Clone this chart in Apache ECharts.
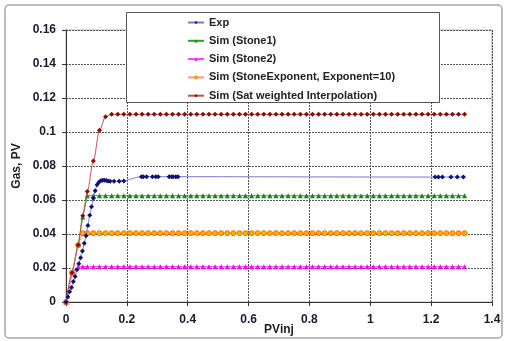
<!DOCTYPE html>
<html><head><meta charset="utf-8">
<script src="https://cdn.jsdelivr.net/npm/echarts@6/dist/echarts.min.js"></script>
<style>html,body{margin:0;padding:0;background:#fff}#c{width:505px;height:341px}</style>
</head><body><div id="c"></div>
<script>
var xTicks = [0, 0.2, 0.4, 0.6, 0.8, 1, 1.2, 1.4];
var yTicks = [0, 0.02, 0.04, 0.06, 0.08, 0.1, 0.12, 0.14, 0.16];
var seriesNames = ['Exp', 'Sim (Stone1)', 'Sim (Stone2)', 'Sim (StoneExponent, Exponent=10)', 'Sim (Sat weighted Interpolation)'];

var expX = [0, 0.006, 0.012, 0.018, 0.024, 0.03, 0.036, 0.042, 0.048, 0.054, 0.06, 0.066, 0.072, 0.078, 0.084, 0.09, 0.096, 0.102, 0.108, 0.114, 0.12, 0.126, 0.132, 0.138, 0.145, 0.158, 0.175, 0.19, 0.215, 0.232, 0.248, 0.254, 0.265, 0.284, 0.295, 0.303, 0.339, 0.347, 0.352, 0.361, 0.368, 1.213, 1.224, 1.237, 1.265, 1.286, 1.306];
var expY = [0, 0.003, 0.006, 0.0085, 0.012, 0.015, 0.019, 0.0225, 0.026, 0.030, 0.0345, 0.039, 0.045, 0.051, 0.056, 0.061, 0.0655, 0.069, 0.0705, 0.0713, 0.0716, 0.0716, 0.0714, 0.0712, 0.0711, 0.071, 0.071, 0.0712, 0.0724, 0.0733, 0.0737, 0.0737, 0.0737, 0.0737, 0.0737, 0.0737, 0.0737, 0.0737, 0.0737, 0.0737, 0.0737, 0.0735, 0.0735, 0.0735, 0.0735, 0.0735, 0.0735];
var expNoMarker = [0.215, 0.232];

var simX = [0, 0.02, 0.04, 0.055, 0.07, 0.09, 0.11, 0.13, 0.15, 0.17, 0.19, 0.21, 0.23, 0.25, 0.27, 0.29, 0.31, 0.33, 0.35, 0.37, 0.39, 0.41, 0.43, 0.45, 0.47, 0.49, 0.51, 0.53, 0.55, 0.57, 0.59, 0.61, 0.63, 0.65, 0.67, 0.69, 0.71, 0.73, 0.75, 0.77, 0.79, 0.81, 0.83, 0.85, 0.87, 0.89, 0.91, 0.93, 0.95, 0.97, 0.99, 1.01, 1.03, 1.05, 1.07, 1.09, 1.11, 1.13, 1.15, 1.17, 1.19, 1.21, 1.23, 1.25, 1.27, 1.29, 1.31];
var stone1Y = [0, 0.0172, 0.0335, 0.05, 0.0625, 0.0625, 0.0625, 0.0625, 0.0625, 0.0625, 0.0625, 0.0625, 0.0625, 0.0625, 0.0625, 0.0625, 0.0625, 0.0625, 0.0625, 0.0625, 0.0625, 0.0625, 0.0625, 0.0625, 0.0625, 0.0625, 0.0625, 0.0625, 0.0625, 0.0625, 0.0625, 0.0625, 0.0625, 0.0625, 0.0625, 0.0625, 0.0625, 0.0625, 0.0625, 0.0625, 0.0625, 0.0625, 0.0625, 0.0625, 0.0625, 0.0625, 0.0625, 0.0625, 0.0625, 0.0625, 0.0625, 0.0625, 0.0625, 0.0625, 0.0625, 0.0625, 0.0625, 0.0625, 0.0625, 0.0625, 0.0625, 0.0625, 0.0625, 0.0625, 0.0625, 0.0625, 0.0625];
var stone2Y = [0, 0.0172, 0.0208, 0.0208, 0.0208, 0.0208, 0.0208, 0.0208, 0.0208, 0.0208, 0.0208, 0.0208, 0.0208, 0.0208, 0.0208, 0.0208, 0.0208, 0.0208, 0.0208, 0.0208, 0.0208, 0.0208, 0.0208, 0.0208, 0.0208, 0.0208, 0.0208, 0.0208, 0.0208, 0.0208, 0.0208, 0.0208, 0.0208, 0.0208, 0.0208, 0.0208, 0.0208, 0.0208, 0.0208, 0.0208, 0.0208, 0.0208, 0.0208, 0.0208, 0.0208, 0.0208, 0.0208, 0.0208, 0.0208, 0.0208, 0.0208, 0.0208, 0.0208, 0.0208, 0.0208, 0.0208, 0.0208, 0.0208, 0.0208, 0.0208, 0.0208, 0.0208, 0.0208, 0.0208, 0.0208, 0.0208, 0.0208];
var stoneExpY = [0, 0.0172, 0.0335, 0.0405, 0.0405, 0.0405, 0.0405, 0.0405, 0.0405, 0.0405, 0.0405, 0.0405, 0.0405, 0.0405, 0.0405, 0.0405, 0.0405, 0.0405, 0.0405, 0.0405, 0.0405, 0.0405, 0.0405, 0.0405, 0.0405, 0.0405, 0.0405, 0.0405, 0.0405, 0.0405, 0.0405, 0.0405, 0.0405, 0.0405, 0.0405, 0.0405, 0.0405, 0.0405, 0.0405, 0.0405, 0.0405, 0.0405, 0.0405, 0.0405, 0.0405, 0.0405, 0.0405, 0.0405, 0.0405, 0.0405, 0.0405, 0.0405, 0.0405, 0.0405, 0.0405, 0.0405, 0.0405, 0.0405, 0.0405, 0.0405, 0.0405, 0.0405, 0.0405, 0.0405, 0.0405, 0.0405, 0.0405];
var satY = [0, 0.0172, 0.0335, 0.0508, 0.065, 0.083, 0.101, 0.109, 0.1104, 0.1104, 0.1104, 0.1104, 0.1104, 0.1104, 0.1104, 0.1104, 0.1104, 0.1104, 0.1104, 0.1104, 0.1104, 0.1104, 0.1104, 0.1104, 0.1104, 0.1104, 0.1104, 0.1104, 0.1104, 0.1104, 0.1104, 0.1104, 0.1104, 0.1104, 0.1104, 0.1104, 0.1104, 0.1104, 0.1104, 0.1104, 0.1104, 0.1104, 0.1104, 0.1104, 0.1104, 0.1104, 0.1104, 0.1104, 0.1104, 0.1104, 0.1104, 0.1104, 0.1104, 0.1104, 0.1104, 0.1104, 0.1104, 0.1104, 0.1104, 0.1104, 0.1104, 0.1104, 0.1104, 0.1104, 0.1104, 0.1104, 0.1104];

function pairs(xs, ys) { return xs.map(function (x, i) { return [x, ys[i]]; }); }
var expData = expX.map(function (x, i) {
  var d = { value: [x, expY[i]] };
  if (expNoMarker.indexOf(x) >= 0) d.symbol = 'none';
  return d;
});

var FONT = '"Liberation Sans", Arial, sans-serif';
var legendData = seriesNames.map(function (n, i) {
  return i === 3 ? { name: n, itemStyle: { borderWidth: 0.6 } } : { name: n };
});
var chart = echarts.init(document.getElementById('c'), null, { renderer: 'canvas' });
chart.setOption({
  animation: false,
  backgroundColor: '#fff',
  graphic: [
    { type: 'rect', z: 0, shape: { x: 5, y: 5, width: 497, height: 333, r: 4 }, style: { fill: 'none', stroke: '#a8a8a8', lineWidth: 1.5 } },
    { type: 'rect', z: 20, shape: { x: 126.5, y: 12.5, width: 313, height: 90 }, style: { fill: '#fff', stroke: '#555', lineWidth: 1 } }
  ],
  grid: { left: 66, right: 13, top: 30, bottom: 39, containLabel: false, outerBoundsMode: 'none', show: true, borderColor: '#b0b0b0', borderWidth: 1 },
  legend: {
    z: 30,
    orient: 'vertical', left: 182, top: 11,
    itemWidth: 16, itemHeight: 4, itemGap: 5.3,
    textStyle: { fontFamily: FONT, fontSize: 11, fontWeight: 'bold', color: '#222', lineHeight: 13 },
    data: legendData
  },
  xAxis: {
    type: 'value', min: xTicks[0], max: xTicks[xTicks.length - 1], interval: 0.2,
    name: 'PVinj', nameLocation: 'middle', nameGap: 22, nameMoveOverlap: false,
    nameTextStyle: { fontFamily: FONT, fontSize: 12, fontWeight: 'bold', color: '#222' },
    axisLine: { lineStyle: { color: '#333', width: 1 } },
    axisTick: { show: true, length: 4, lineStyle: { color: '#333' } },
    axisLabel: { fontFamily: FONT, fontSize: 12, fontWeight: 'bold', color: '#1a1a33', margin: 12 },
    splitLine: { show: true, lineStyle: { color: '#555', type: [2, 1], width: 1 } }
  },
  yAxis: {
    type: 'value', min: yTicks[0], max: yTicks[yTicks.length - 1], interval: 0.02,
    name: 'Gas, PV', nameLocation: 'middle', nameGap: 43, nameMoveOverlap: false,
    nameTextStyle: { fontFamily: FONT, fontSize: 12, fontWeight: 'bold', color: '#222' },
    axisLine: { show: true, lineStyle: { color: '#333', width: 1 } },
    axisTick: { show: true, length: 4, lineStyle: { color: '#333' } },
    axisLabel: { fontFamily: FONT, fontSize: 12, fontWeight: 'bold', color: '#1a1a33', margin: 10 },
    splitLine: { show: true, lineStyle: { color: '#555', type: [2, 1], width: 1 } }
  },
  series: [
    { name: seriesNames[0], type: 'line', z: 6, data: expData, smooth: 0.3, smoothMonotone: 'x',
      symbol: 'diamond', symbolSize: 5, showAllSymbol: true,
      lineStyle: { color: '#7878c8', width: 1 }, itemStyle: { color: '#10107a' } },
    { name: seriesNames[1], type: 'line', z: 4, data: pairs(simX, stone1Y),
      symbol: 'triangle', symbolSize: 5, showAllSymbol: true,
      lineStyle: { color: '#2ca02c', width: 1 }, itemStyle: { color: '#128a12' } },
    { name: seriesNames[2], type: 'line', z: 4, data: pairs(simX, stone2Y),
      symbol: 'triangle', symbolSize: 5, showAllSymbol: true,
      lineStyle: { color: '#ff44ff', width: 1 }, itemStyle: { color: '#ff00ff' } },
    { name: seriesNames[3], type: 'line', z: 4, data: pairs(simX, stoneExpY),
      symbol: 'circle', symbolSize: 5, showAllSymbol: true,
      lineStyle: { color: '#ff9a80', width: 1 }, itemStyle: { color: '#ffb000', borderColor: '#ff7000', borderWidth: 1 } },
    { name: seriesNames[4], type: 'line', z: 5, data: pairs(simX, satY), smooth: 0.3, smoothMonotone: 'x',
      symbol: 'diamond', symbolSize: 5, showAllSymbol: true,
      lineStyle: { color: '#c05050', width: 1 }, itemStyle: { color: '#8b0a0a' } }
  ]
});
</script></body></html>
